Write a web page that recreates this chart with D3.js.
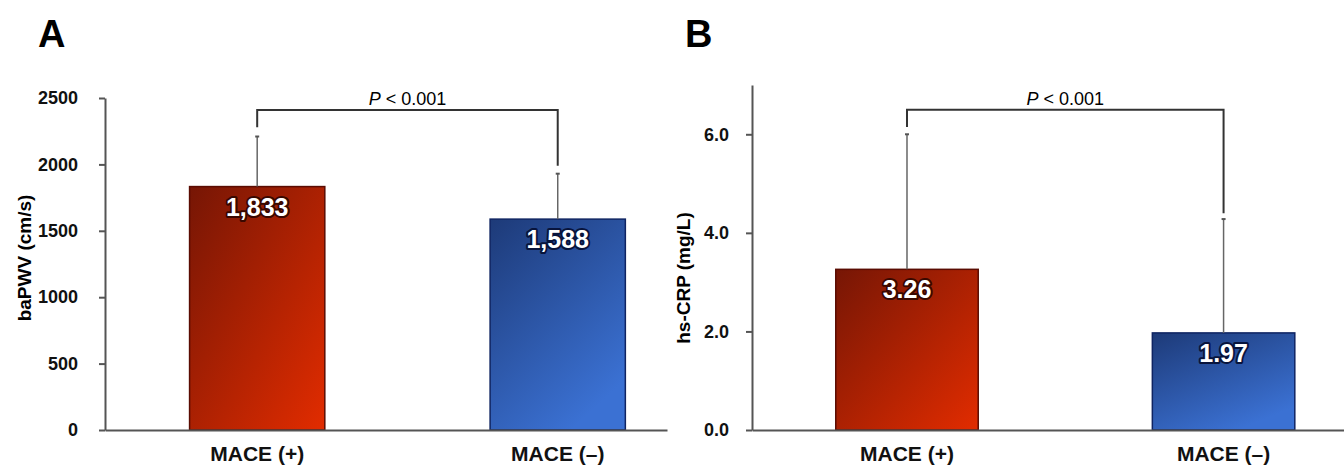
<!DOCTYPE html>
<html>
<head>
<meta charset="utf-8">
<script src="https://cdn.jsdelivr.net/npm/d3@7"></script>
<style>
  body { margin: 0; background: #fff; }
  svg { display: block; font-family: "Liberation Sans", Arial, sans-serif; }
  .tick text { font-weight: bold; font-size: 18px; fill: #111; }
  .xaxis .tick text { font-size: 21px; }
</style>
</head>
<body>
<svg id="chart" width="1344" height="466"></svg>
<script>
// data
const groups = ["MACE (+)", "MACE (\u2013)"];
const bapwvMean = [1833, 1588];
const bapwvUpper = [2210, 1930];      // mean + SD
const bapwvTicks = [0, 500, 1000, 1500, 2000, 2500];
const crpMean = [3.26, 1.97];
const crpUpper = [6.0, 4.28];
const crpTicks = [0, 2, 4, 6];
const pLabel = "< 0.001";
// bracket: [left leg end, bar level, right leg end] in data units
const bapwvBracket = [2280, 2410, 1990];
const crpBracket = [6.15, 6.5, 4.4];

const svg = d3.select("#chart");
const defs = svg.append("defs");

function grad(id, c0, c1, x2, y2) {
    const g = defs.append("linearGradient").attr("id", id)
        .attr("x1", 0).attr("y1", 0).attr("x2", x2).attr("y2", y2);
    g.append("stop").attr("offset", 0).attr("stop-color", c0);
    g.append("stop").attr("offset", 1).attr("stop-color", c1);
}
grad("gRed", "#761605", "#e22c00", 1, 1);
grad("gBlue", "#1d3a78", "#3b71d3", 0.6, 1);
const fills = ["url(#gRed)", "url(#gBlue)"];
const strokes = ["#5a0c02", "#0f2462"];
const labelStrokes = ["#3a0800", "#08143c"];

function panel(cfg) {
    const x = d3.scaleBand().domain(groups)
        .range([cfg.left, cfg.right])
        .paddingInner(0.55).paddingOuter(0.21).align(cfg.align);
    const y = d3.scaleLinear().domain([0, cfg.max]).range([cfg.bottom, cfg.top]);
    const g = svg.append("g");

    // panel letter
    g.append("text").attr("x", cfg.letterX).attr("y", 47)
        .attr("font-size", 38).attr("font-weight", "bold").text(cfg.letter);

    // y axis
    const ya = g.append("g").attr("transform", `translate(${cfg.left},0)`)
        .call(d3.axisLeft(y).tickValues(cfg.ticks).tickFormat(cfg.tickFmt)
            .tickSize(6).tickSizeOuter(0).tickPadding(cfg.tickPad));
    ya.selectAll("path,line").attr("stroke", "#555").attr("stroke-width", 2);

    g.append("text")
        .attr("transform", `translate(${cfg.yLabelX},${cfg.yLabelY}) rotate(-90)`)
        .attr("text-anchor", "middle").attr("font-size", 19).attr("font-weight", "bold")
        .text(cfg.yLabel);

    // bars
    g.selectAll("rect.bar").data(cfg.mean).join("rect").attr("class", "bar")
        .attr("x", (d, i) => x(groups[i]))
        .attr("width", x.bandwidth())
        .attr("y", d => y(d))
        .attr("height", d => y(0) - y(d))
        .attr("fill", (d, i) => fills[i])
        .attr("stroke", (d, i) => strokes[i]).attr("stroke-width", 1.5);

    // error bars
    const cx = i => x(groups[i]) + x.bandwidth() / 2;
    g.selectAll("line.err").data(cfg.upper).join("line").attr("class", "err")
        .attr("x1", (d, i) => cx(i)).attr("x2", (d, i) => cx(i))
        .attr("y1", (d, i) => y(cfg.mean[i])).attr("y2", d => y(d))
        .attr("stroke", "#666").attr("stroke-width", 1.5);
    g.selectAll("line.cap").data(cfg.upper).join("line").attr("class", "cap")
        .attr("x1", (d, i) => cx(i) - 2).attr("x2", (d, i) => cx(i) + 2)
        .attr("y1", d => y(d)).attr("y2", d => y(d))
        .attr("stroke", "#555").attr("stroke-width", 2);

    // x axis
    const xa = g.append("g").attr("class", "xaxis").attr("transform", `translate(0,${cfg.bottom})`)
        .call(d3.axisBottom(x).tickSize(0).tickSizeOuter(0).tickPadding(16));
    xa.select("path").attr("stroke", "#555").attr("stroke-width", 2);

    // value labels
    g.selectAll("text.val").data(cfg.mean).join("text").attr("class", "val")
        .attr("x", (d, i) => cx(i)).attr("y", d => y(d) + 29)
        .attr("text-anchor", "middle").attr("font-size", 25).attr("font-weight", "bold")
        .attr("fill", "#fff").attr("stroke", (d, i) => labelStrokes[i])
        .attr("stroke-width", 4).attr("stroke-linejoin", "round").attr("paint-order", "stroke")
        .text(d => cfg.valFmt(d));

    // significance bracket
    const b = cfg.bracket;
    const path = d3.path();
    path.moveTo(cx(0), y(b[0]));
    path.lineTo(cx(0), y(b[1]));
    path.lineTo(cx(1), y(b[1]));
    path.lineTo(cx(1), y(b[2]));
    g.append("path").attr("d", path.toString()).attr("fill", "none")
        .attr("stroke", "#333").attr("stroke-width", 2);
    const pt = g.append("text").attr("x", (cx(0) + cx(1)) / 2).attr("y", y(b[1]) - 5)
        .attr("text-anchor", "middle").attr("font-size", 18);
    pt.append("tspan").attr("font-style", "italic").text("P");
    pt.append("tspan").text(" " + pLabel);
}

panel({
    letter: "A", letterX: 38, left: 105, right: 667, top: 98, bottom: 430, align: 0.67,
    max: 2500, ticks: bapwvTicks, tickFmt: d3.format("d"), tickPad: 21,
    yLabel: "baPWV (cm/s)", yLabelX: 31, yLabelY: 258,
    mean: bapwvMean, upper: bapwvUpper, valFmt: d3.format(","), bracket: bapwvBracket
});
panel({
    letter: "B", letterX: 685, left: 752, right: 1344, top: 85, bottom: 430, align: 0.63,
    max: 7, ticks: crpTicks, tickFmt: d3.format(".1f"), tickPad: 17,
    yLabel: "hs-CRP (mg/L)", yLabelX: 690, yLabelY: 278,
    mean: crpMean, upper: crpUpper, valFmt: d3.format(".2f"), bracket: crpBracket
});
</script>
</body>
</html>
